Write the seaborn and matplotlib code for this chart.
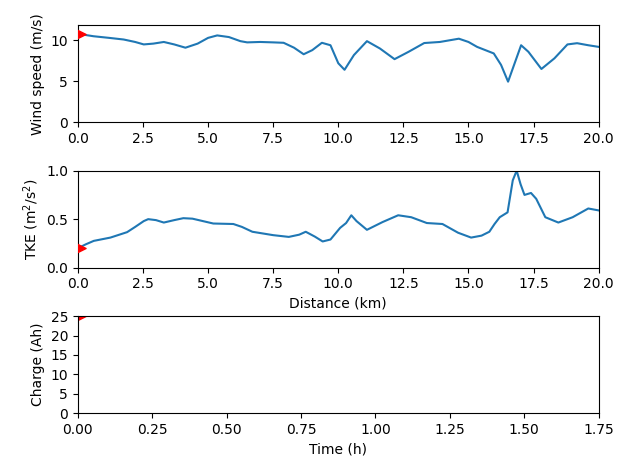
import numpy as np
import pandas as pd
import matplotlib
matplotlib.use('Agg')
import matplotlib.pyplot as plt
import seaborn as sns

# wind speed along the track
dist_ws = [0.0, 0.6, 1.2, 1.76, 2.2, 2.53, 2.9, 3.3, 3.7, 4.13, 4.6, 5.0, 5.35, 5.8,
           6.24, 6.5, 7.0, 7.5, 7.9, 8.3, 8.67, 9.0, 9.37, 9.7, 10.0, 10.24, 10.6,
           11.1, 11.6, 12.16, 12.7, 13.3, 13.9, 14.63, 15.0, 15.33, 15.97, 16.25,
           16.52, 16.75, 17.02, 17.3, 17.8, 18.3, 18.8, 19.17, 19.6, 20.0]
wind = [10.8, 10.5, 10.3, 10.1, 9.8, 9.5, 9.6, 9.8, 9.5, 9.1, 9.6, 10.3, 10.6, 10.4,
        9.9, 9.75, 9.8, 9.75, 9.7, 9.1, 8.3, 8.8, 9.7, 9.4, 7.2, 6.4, 8.2,
        9.9, 9.0, 7.7, 8.6, 9.67, 9.8, 10.2, 9.8, 9.2, 8.4, 7.0,
        4.95, 7.0, 9.4, 8.6, 6.5, 7.8, 9.5, 9.65, 9.4, 9.2]

# turbulent kinetic energy along the track
dist_tke = [0.0, 0.3, 0.61, 1.25, 1.89, 2.2, 2.53, 2.7, 3.0, 3.3, 3.7, 4.05, 4.4,
            4.8, 5.2, 5.97, 6.3, 6.7, 7.5, 8.1, 8.5, 8.75, 9.1, 9.4, 9.7, 10.07,
            10.3, 10.5, 10.7, 11.1, 11.7, 12.3, 12.8, 13.4, 14.0, 14.6, 15.1,
            15.5, 15.8, 16.0, 16.2, 16.5, 16.7, 16.85, 17.0, 17.15, 17.4, 17.6,
            17.95, 18.45, 19.0, 19.6, 20.0]
tke = [0.2, 0.24, 0.276, 0.31, 0.366, 0.42, 0.48, 0.5, 0.49, 0.465, 0.49, 0.51, 0.505,
       0.48, 0.455, 0.45, 0.42, 0.37, 0.335, 0.317, 0.34, 0.37, 0.32, 0.27, 0.29, 0.41,
       0.46, 0.54, 0.48, 0.39, 0.47, 0.54, 0.52, 0.46, 0.45, 0.36, 0.31,
       0.33, 0.37, 0.45, 0.52, 0.57, 0.9, 1.0, 0.86, 0.75, 0.77, 0.71,
       0.52, 0.465, 0.52, 0.61, 0.59]

# battery charge at start
t_charge = [0.0]
charge = [25.0]

ws = pd.DataFrame({'dist': dist_ws, 'wind': wind})
tk = pd.DataFrame({'dist': dist_tke, 'tke': tke})

fig, axs = plt.subplots(3, 1, figsize=(6.23, 4.58), dpi=100)
fig.subplots_adjust(left=0.125, right=0.961, top=0.945, bottom=0.098, hspace=0.5)

sns.lineplot(data=ws, x='dist', y='wind', ax=axs[0], color='#1f77b4', lw=1.5)
axs[0].scatter(dist_ws[:1], wind[:1], marker='>', color='red', s=120, zorder=3, clip_on=True)
axs[0].set_xlim(0, 20)
axs[0].set_ylim(0, 11.85)
axs[0].set_yticks([0, 5, 10])
axs[0].set_xlabel('')
axs[0].set_ylabel('Wind speed (m/s)')

sns.lineplot(data=tk, x='dist', y='tke', ax=axs[1], color='#1f77b4', lw=1.5)
axs[1].scatter(dist_tke[:1], tke[:1], marker='>', color='red', s=120, zorder=3, clip_on=True)
axs[1].set_xlim(0, 20)
axs[1].set_ylim(0, 1)
axs[1].set_xlabel('Distance (km)')
axs[1].set_ylabel('TKE (m$^2$/s$^2$)')

axs[2].scatter(t_charge, charge, marker='>', color='red', s=120, clip_on=True)
axs[2].set_xlim(0, 1.75)
axs[2].set_ylim(0, 25)
axs[2].set_xticks(np.arange(0, 1.76, 0.25))
axs[2].set_yticks(np.arange(0, 26, 5))
axs[2].set_xlabel('Time (h)')
axs[2].set_ylabel('Charge (Ah)')

fig.savefig('out.png', dpi=100)
